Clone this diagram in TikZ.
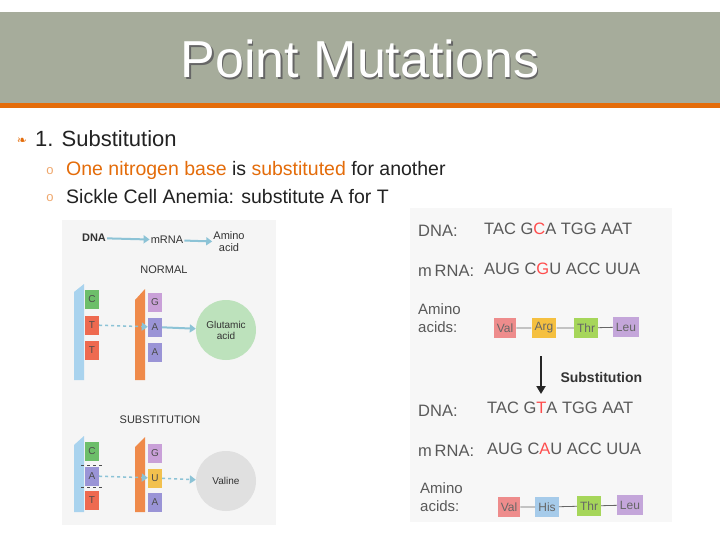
\documentclass[tikz,border=0pt]{standalone}
\usepackage{fontspec}
\setmainfont{Liberation Sans}
\newfontfamily\dejavu{DejaVu Sans}
\usetikzlibrary{arrows.meta}
\definecolor{hdr}{HTML}{A6AC9B}
\definecolor{org}{HTML}{E46C0A}
\definecolor{txt}{HTML}{222222}
\definecolor{gc}{HTML}{6DBE6A}
\definecolor{rc}{HTML}{EE6A50}
\definecolor{pc}{HTML}{9A94D6}
\definecolor{mc}{HTML}{C9A0D8}
\definecolor{yc}{HTML}{F2C14E}
\definecolor{dnab}{HTML}{A9D3EE}
\definecolor{rnab}{HTML}{EF8A4A}
\definecolor{arr}{HTML}{8CC3D6}
\definecolor{vc}{HTML}{EE8C8C}
\definecolor{ac}{HTML}{F5C040}
\definecolor{tc}{HTML}{A6D65A}
\definecolor{lc}{HTML}{C4A6DA}
\definecolor{hc}{HTML}{A6CBEA}
\tikzset{
 base/.style={draw=none,minimum width=14pt,minimum height=19pt,inner sep=0pt,font=\fontsize{10}{10}\selectfont,text=black!70},
 lbl/.style={font=\fontsize{11}{12}\selectfont,text=black!80,inner sep=1pt,align=center},
 seq/.style={font=\fontsize{16.5}{18}\selectfont,text=black!65,anchor=west,inner sep=0pt},
 aa/.style={inner sep=3pt,font=\fontsize{12}{12}\selectfont,text=black!60,minimum height=20pt},
 flow/.style={arr,line width=2pt,-{Triangle[length=6pt,width=8pt]}},
 dflow/.style={arr,line width=1.5pt,dashed,-{Triangle[length=6pt,width=8pt]}},
}
\begin{document}
\begin{tikzpicture}[x=1pt,y=-1pt]
\useasboundingbox (0,0) rectangle (720,540);
\fill[white] (0,0) rectangle (720,540);
\fill[hdr] (0,12) rectangle (720,103);
\fill[org] (0,103) rectangle (720,108);
\node (title) [font=\fontsize{52}{56}\selectfont,text=white] at (360,60) {\rlap{\kern1.5pt\raisebox{-1.5pt}{\textcolor{black!60}{Point Mutations}}}Point Mutations};
\node (b1) [text=org,font=\dejavu\fontsize{12}{12}\selectfont] at (22,141) {❧};
\node (l1) [anchor=west,font=\fontsize{22}{24}\selectfont,text=txt,inner sep=0pt] at (35,139) {1. Substitution};
\node (o1) [text=org!60,font=\fontsize{13}{13}\selectfont] at (50,171) {o};
\node (o2) [text=org!60,font=\fontsize{13}{13}\selectfont] at (50,198) {o};
\node (s1) [anchor=west,font=\fontsize{19.5}{20}\selectfont,text=txt,inner sep=0pt] at (66,170) {\textcolor{org}{One nitrogen base} is \textcolor{org}{substituted} for another};
\node (s2) [anchor=west,font=\fontsize{19.5}{20}\selectfont,text=txt,inner sep=0pt] at (66,197) {Sickle Cell Anemia: substitute A for T};
% left figure
\fill[black!4] (62,220) rectangle (276,525);
\node (dna) [lbl,font=\bfseries\fontsize{11}{12}\selectfont] at (94,238) {DNA};
\node (mrna) [lbl] at (167,240) {mRNA};
\node (amino) [lbl] at (229,242) {Amino\\acid};
\draw[flow] (dna) -- (mrna);
\draw[flow] (mrna) -- (amino);
\node (normal) [lbl] at (164,270) {NORMAL};
\fill[dnab] (74,292) -- (84,284) -- (84,380) -- (74,380) -- cycle;
\fill[rnab] (135,300) -- (145,289) -- (145,380) -- (135,380) -- cycle;
\node (c1) [base,fill=gc] at (92,299) {C};
\node (t1) [base,fill=rc] at (92,325) {T};
\node (t2) [base,fill=rc] at (92,350) {T};
\node (g1) [base,fill=mc] at (155,302) {G};
\node (a1) [base,fill=pc] at (155,327) {A};
\node (a2) [base,fill=pc] at (155,352) {A};
\node (glu) [circle,fill=gc!45,minimum size=60pt,lbl,font=\fontsize{10}{11}\selectfont] at (226,330) {Glutamic\\acid};
\draw[dflow] (t1) -- (a1);
\draw[flow] (a1) -- (glu);
\node (subst) [lbl] at (160,420) {SUBSTITUTION};
\fill[dnab] (74,445) -- (84,436) -- (84,512) -- (74,512) -- cycle;
\fill[rnab] (135,447) -- (145,437) -- (145,512) -- (135,512) -- cycle;
\node (c2) [base,fill=gc] at (92,451) {C};
\node (a3) [base,fill=pc] at (92,476) {A};
\draw[dashed,black!70] (81,465) -- (103,465) (81,487) -- (103,487);
\node (t3) [base,fill=rc] at (92,500) {T};
\node (g2) [base,fill=mc] at (155,453) {G};
\node (u1) [base,fill=yc] at (155,478) {U};
\node (a4) [base,fill=pc] at (155,502) {A};
\node (val) [circle,fill=black!12,minimum size=60pt,lbl,font=\fontsize{10}{11}\selectfont] at (226,481) {Valine};
\draw[dflow] (a3) -- (u1);
\draw[dflow] (u1) -- (val);
% right figure
\fill[black!3] (410,208) rectangle (672,522);
\node (d1) [seq] at (418,231) {DNA:};
\node (d1s) [seq] at (484,229) {TAC G\textcolor{red!70}{C}A TGG AAT};
\node (m1) [seq] at (418,271) {m\,RNA:};
\node (m1s) [seq] at (484,269) {AUG C\textcolor{red!70}{G}U ACC UUA};
\node (aa1) [seq,align=left,font=\fontsize{15}{18}\selectfont] at (418,318) {Amino\\acids:};
\node (v1) [aa,fill=vc] at (505,328) {Val};
\node (r1) [aa,fill=ac] at (544,328) {Arg};
\node (h1) [aa,fill=tc] at (586,328) {Thr};
\node (l1b) [aa,fill=lc] at (626,327) {Leu};
\draw[black!60,thick] (v1) -- (r1) (r1) -- (h1) (h1) -- (l1b);
\coordinate (ar1) at (541,356);
\coordinate (ar2) at (541,394);
\draw[line width=2pt,black!85,-{Triangle[length=8pt,width=9pt]}] (ar1) -- (ar2);
\node (sub) [anchor=west,font=\bfseries\fontsize{14}{15}\selectfont,text=black!80] at (557,377) {Substitution};
\node (d2) [seq] at (418,411) {DNA:};
\node (d2s) [seq] at (487,408) {TAC G\textcolor{red!70}{T}A TGG AAT};
\node (m2) [seq] at (418,451) {m\,RNA:};
\node (m2s) [seq] at (487,449) {AUG C\textcolor{red!70}{A}U ACC UUA};
\node (aa2) [seq,align=left,font=\fontsize{15}{18}\selectfont] at (420,497) {Amino\\acids:};
\node (v2) [aa,fill=vc] at (509,507) {Val};
\node (hi) [aa,fill=hc] at (547,507) {His};
\node (h2) [aa,fill=tc] at (589,506) {Thr};
\node (l2) [aa,fill=lc] at (630,505) {Leu};
\draw[black!60,thick] (v2) -- (hi) (hi) -- (h2) (h2) -- (l2);
\end{tikzpicture}
\end{document}
